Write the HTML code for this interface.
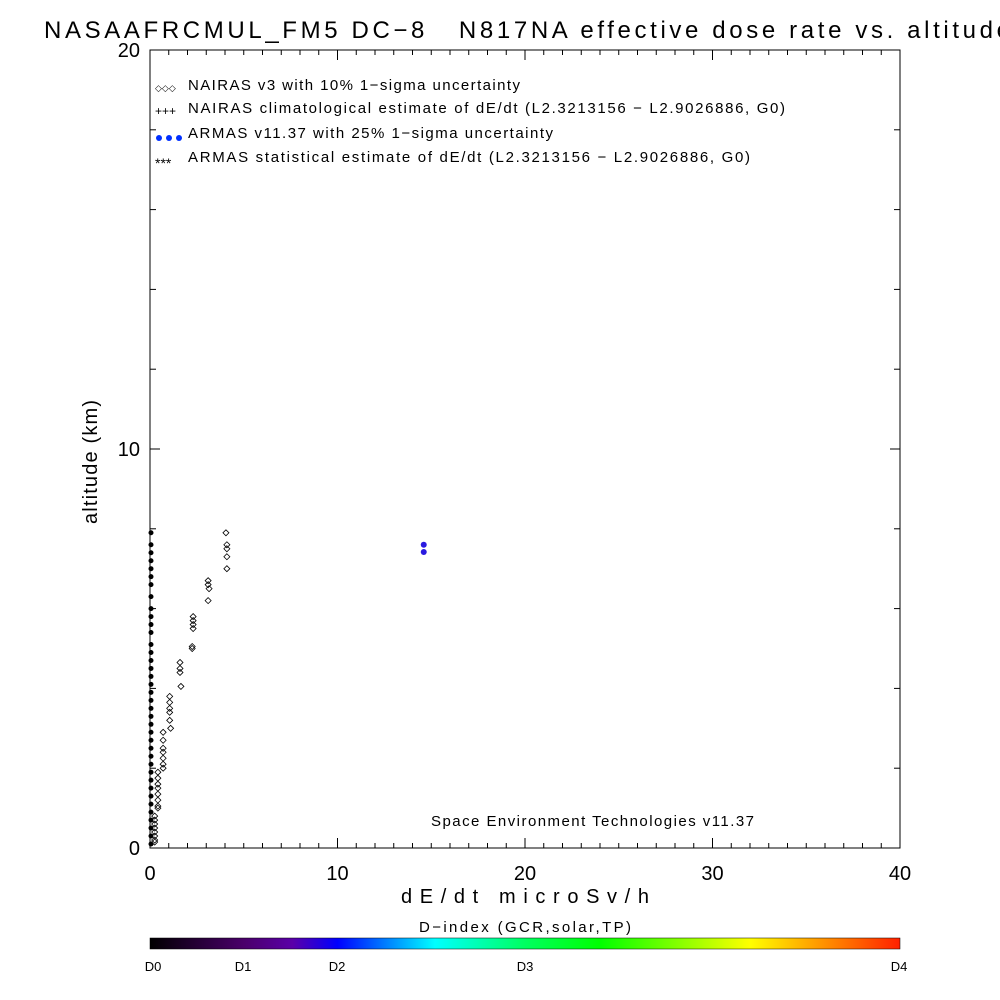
<!DOCTYPE html>
<html><head><meta charset="utf-8"><style>
body{margin:0;background:#fff;}
svg{display:block;font-family:"Liberation Sans","DejaVu Sans",sans-serif;}
</style></head><body>
<svg id="chart" width="1000" height="1000" viewBox="0 0 1000 1000">
<defs>
<linearGradient id="dgrad" x1="0" x2="1" y1="0" y2="0">
<stop offset="0" stop-color="#000000"/>
<stop offset="0.125" stop-color="#4a006a"/>
<stop offset="0.19" stop-color="#5a00a8"/>
<stop offset="0.25" stop-color="#0000ff"/>
<stop offset="0.38" stop-color="#00ffff"/>
<stop offset="0.5" stop-color="#00ff60"/>
<stop offset="0.6" stop-color="#00ff00"/>
<stop offset="0.8" stop-color="#ffff00"/>
<stop offset="1" stop-color="#ff2000"/>
</linearGradient>
</defs>
<text x="44" y="38" font-size="24" fill="#000" textLength="966" lengthAdjust="spacing" xml:space="preserve">NASAAFRCMUL_FM5 DC−8   N817NA effective dose rate vs. altitude</text>
<rect x="150" y="50" width="750" height="798" fill="none" stroke="#000" stroke-width="1"/>
<g id="axes"></g>
<g id="marks"></g>
<text x="97" y="462" font-size="20" text-anchor="middle" textLength="124" lengthAdjust="spacing" transform="rotate(-90 97 462)">altitude (km)</text>
<text x="401" y="903" font-size="20" textLength="248" lengthAdjust="spacing">dE/dt microSv/h</text>
<text x="419" y="932" font-size="15" textLength="212" lengthAdjust="spacing">D−index (GCR,solar,TP)</text>
<rect x="150" y="938" width="750" height="11" fill="url(#dgrad)" stroke="#000" stroke-width="0.5"/>
<g font-size="13" text-anchor="middle">
<text x="153" y="971">D0</text>
<text x="243" y="971">D1</text>
<text x="337" y="971">D2</text>
<text x="525" y="971">D3</text>
<text x="899" y="971">D4</text>
</g>
<g font-size="15">
<g>
<text x="155" y="91" font-size="9">◇◇◇</text>
<text x="188" y="90" textLength="332" lengthAdjust="spacing">NAIRAS v3 with 10% 1−sigma uncertainty</text></g>
<g>
<text x="155" y="115" font-size="12">+++</text>
<text x="188" y="113" textLength="597" lengthAdjust="spacing">NAIRAS climatological estimate of dE/dt (L2.3213156 − L2.9026886, G0)</text></g>
<g>
<circle cx="159" cy="138" r="3" fill="#0030ff"/><circle cx="169" cy="138" r="3" fill="#0030ff"/><circle cx="179" cy="138" r="3" fill="#0030ff"/>
<text x="188" y="138" textLength="365" lengthAdjust="spacing">ARMAS v11.37 with 25% 1−sigma uncertainty</text></g>
<g>
<text x="155" y="168" font-size="14">***</text>
<text x="188" y="162" textLength="562" lengthAdjust="spacing">ARMAS statistical estimate of dE/dt (L2.3213156 − L2.9026886, G0)</text></g>
</g>
<text x="431" y="826" font-size="15" textLength="323" lengthAdjust="spacing">Space Environment Technologies v11.37</text>
<script>
const xTicks=[0,10,20,30,40];
const yTicks=[0,10,20];
const nairasX=[4.05,4.1,4.1,4.1,4.1,3.1,3.1,3.15,3.1,2.3,2.3,2.3,2.3,2.25,2.25,1.6,1.6,1.6,1.65,1.05,1.05,1.05,1.05,1.05,1.1,0.7,0.7,0.7,0.7,0.7,0.7,0.7,0.42,0.42,0.42,0.42,0.42,0.42,0.42,0.42,0.25,0.25,0.25,0.25,0.25,0.25,0.25,0.25];
const nairasAlt=[7.9,7.6,7.5,7.3,7.0,6.7,6.6,6.5,6.2,5.8,5.7,5.6,5.5,5.05,5.0,4.65,4.5,4.4,4.05,3.8,3.65,3.5,3.4,3.2,3.0,2.9,2.7,2.5,2.4,2.25,2.1,2.0,1.9,1.75,1.6,1.5,1.35,1.2,1.05,1.0,0.8,0.7,0.6,0.5,0.4,0.3,0.2,0.15];
const armasX=[14.6,14.6];
const armasAlt=[7.6,7.42];
const zeroAlt=[7.9,7.6,7.4,7.2,7.0,6.8,6.6,6.3,6.0,5.8,5.6,5.4,5.1,4.9,4.7,4.5,4.3,4.1,3.9,3.7,3.5,3.3,3.1,2.9,2.7,2.5,2.3,2.1,1.9,1.7,1.5,1.3,1.1,0.9,0.7,0.5,0.3,0.1];
const zeroX=zeroAlt.map(()=>0);
const X0=150,X1=900,Y0=848,Y1=50;
const sx=v=>X0+(v/40)*(X1-X0);
const sy=v=>Y0-(v/20)*(Y0-Y1);
const NS='http://www.w3.org/2000/svg';
const axes=document.getElementById('axes'),marks=document.getElementById('marks');
function ln(x1,y1,x2,y2){const l=document.createElementNS(NS,'line');l.setAttribute('x1',x1);l.setAttribute('y1',y1);l.setAttribute('x2',x2);l.setAttribute('y2',y2);l.setAttribute('stroke','#000');return l;}
for(let v=0;v<=40;v++){const x=sx(v),L=(v%10==0)?10:5;
const a=ln(x,Y0,x,Y0-L);axes.appendChild(a);
const b=ln(x,Y1,x,Y1+L);axes.appendChild(b);}
for(let v=0;v<=20;v+=2){const y=sy(v),L=(v%10==0)?10:6;
const a=ln(X0,y,X0+L,y);axes.appendChild(a);
const b=ln(X1,y,X1-L,y);axes.appendChild(b);}
xTicks.forEach(v=>{const t=document.createElementNS(NS,'text');t.setAttribute('x',sx(v));t.setAttribute('y',880);t.setAttribute('font-size','20');t.setAttribute('text-anchor','middle');t.textContent=v;


axes.appendChild(t);});
yTicks.forEach(v=>{const t=document.createElementNS(NS,'text');t.setAttribute('x',140);t.setAttribute('y',sy(v)+7);t.setAttribute('font-size','20');t.setAttribute('text-anchor','end');t.textContent=v;


axes.appendChild(t);});
nairasX.forEach((v,i)=>{const x=sx(v),y=sy(nairasAlt[i]);const p=document.createElementNS(NS,'polygon');
p.setAttribute('points',`${x},${y-3} ${x+3},${y} ${x},${y+3} ${x-3},${y}`);p.setAttribute('fill','none');p.setAttribute('stroke','#000');p.setAttribute('stroke-width','0.8');


marks.appendChild(p);});
zeroX.forEach((v,i)=>{const c=document.createElementNS(NS,'circle');c.setAttribute('cx',sx(v)+1);c.setAttribute('cy',sy(zeroAlt[i]));c.setAttribute('r','2.5');c.setAttribute('fill','#000');


marks.appendChild(c);});
armasX.forEach((v,i)=>{const c=document.createElementNS(NS,'circle');c.setAttribute('cx',sx(v));c.setAttribute('cy',sy(armasAlt[i]));c.setAttribute('r','3');c.setAttribute('fill','#2a1ae0');


marks.appendChild(c);});
</script>
</svg>
</body></html>
